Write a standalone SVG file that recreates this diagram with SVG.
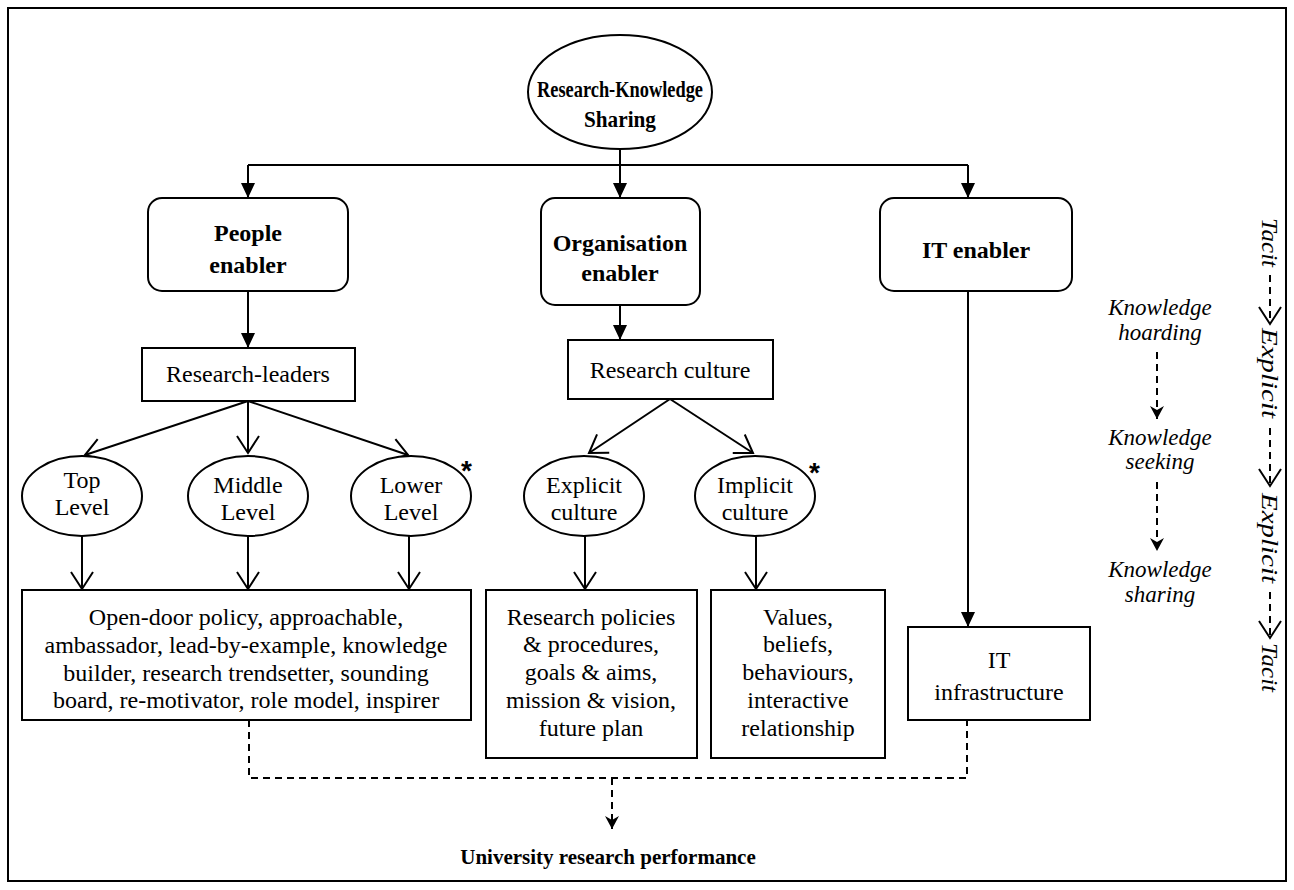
<svg xmlns="http://www.w3.org/2000/svg" width="1294" height="890" viewBox="0 0 1294 890">
  <style>
    .frame { fill: #fff; stroke: #000; stroke-width: 2; }
    .node { fill: #fff; stroke: #000; stroke-width: 2; }
    .bold { font-family: "Liberation Serif", "Times New Roman", serif; font-weight: bold; font-size: 24px; text-anchor: middle; fill: #000; }
    .txt { font-family: "Liberation Serif", "Times New Roman", serif; font-size: 24px; text-anchor: middle; fill: #000; }
    .ital { font-family: "Liberation Serif", "Times New Roman", serif; font-style: italic; font-size: 23px; text-anchor: middle; fill: #000; }
    .star { font-family: "Liberation Sans", Arial, sans-serif; font-weight: bold; font-size: 28px; fill: #000; }
    .solid { fill: none; stroke: #000; stroke-width: 2; }
    .dash { fill: none; stroke: #000; stroke-width: 2; stroke-dasharray: 7 5; }
  </style>
  <defs>
    <marker id="fill" markerUnits="userSpaceOnUse" markerWidth="16" markerHeight="16" viewBox="0 0 16 16" refX="15" refY="8" orient="auto">
      <path d="M0,1 L15,8 L0,15 z" fill="#000"/>
    </marker>
    <marker id="open" markerUnits="userSpaceOnUse" markerWidth="20" markerHeight="26" viewBox="0 0 20 26" refX="18" refY="13" orient="auto">
      <path d="M1,2 L18,13 L1,24" fill="none" stroke="#000" stroke-width="2"/>
    </marker>
    <marker id="chev" markerUnits="userSpaceOnUse" markerWidth="14" markerHeight="16" viewBox="0 0 14 16" refX="13" refY="8" orient="auto">
      <path d="M0,1 L13,8 L0,15 L4,8 z" fill="#000"/>
    </marker>
  </defs>

  <rect class="frame" x="8" y="8" width="1278" height="873"/>

  <!-- connectors -->
  <g id="connectors">
    <path class="solid" d="M620,149 V165 M248,165 H968"/>
    <path class="solid" d="M248,165 V198" marker-end="url(#fill)"/>
    <path class="solid" d="M620,165 V198" marker-end="url(#fill)"/>
    <path class="solid" d="M968,165 V198" marker-end="url(#fill)"/>
    <path class="solid" d="M248,291 V348" marker-end="url(#fill)"/>
    <path class="solid" d="M620,305 V340" marker-end="url(#fill)"/>
    <path class="solid" d="M968,291 V627" marker-end="url(#fill)"/>
    <path class="solid" d="M248,401 L85,455" marker-end="url(#open)"/>
    <path class="solid" d="M248,401 V453" marker-end="url(#open)"/>
    <path class="solid" d="M248,401 L408,455" marker-end="url(#open)"/>
    <path class="solid" d="M670,399 L589,453" marker-end="url(#open)"/>
    <path class="solid" d="M670,399 L753,453" marker-end="url(#open)"/>
    <path class="solid" d="M82,536 V589" marker-end="url(#open)"/>
    <path class="solid" d="M248,536 V589" marker-end="url(#open)"/>
    <path class="solid" d="M409,536 V589" marker-end="url(#open)"/>
    <path class="solid" d="M585,536 V589" marker-end="url(#open)"/>
    <path class="solid" d="M756,536 V589" marker-end="url(#open)"/>
    <path class="dash" d="M249,720 V778 H967 V720"/>
    <path class="dash" d="M612,778 V829" marker-end="url(#chev)"/>
    <path class="dash" d="M1157,352 V419" marker-end="url(#chev)"/>
    <path class="dash" d="M1157,482 V551" marker-end="url(#chev)"/>
    <path class="dash" d="M1270,275 V324" marker-end="url(#open)"/>
    <path class="dash" d="M1270,428 V486" marker-end="url(#open)"/>
    <path class="dash" d="M1270,592 V638" marker-end="url(#open)"/>
  </g>

  <g id="root">
    <ellipse class="node" cx="620" cy="92" rx="92" ry="57"/>
    <text class="bold" x="620" y="97" style="font-size:23px" textLength="166" lengthAdjust="spacingAndGlyphs">Research-Knowledge</text>
    <text class="bold" x="620" y="127" style="font-size:23px" textLength="72" lengthAdjust="spacingAndGlyphs">Sharing</text>
  </g>

  <g id="people-enabler">
    <rect class="node" x="148" y="198" width="200" height="93" rx="14"/>
    <text class="bold" x="248" y="241">People</text>
    <text class="bold" x="248" y="273">enabler</text>
  </g>
  <g id="organisation-enabler">
    <rect class="node" x="541" y="198" width="159" height="107" rx="14"/>
    <text class="bold" x="620" y="251">Organisation</text>
    <text class="bold" x="620" y="281">enabler</text>
  </g>
  <g id="it-enabler">
    <rect class="node" x="880" y="198" width="192" height="93" rx="14"/>
    <text class="bold" x="976" y="258">IT enabler</text>
  </g>

  <g id="research-leaders">
    <rect class="node" x="142" y="348" width="213" height="53"/>
    <text class="txt" x="248" y="382">Research-leaders</text>
  </g>
  <g id="research-culture">
    <rect class="node" x="568" y="340" width="205" height="59"/>
    <text class="txt" x="670" y="378">Research culture</text>
  </g>

  <g id="top-level">
    <ellipse class="node" cx="82" cy="496" rx="60" ry="40"/>
    <text class="txt" x="82" y="488">Top</text>
    <text class="txt" x="82" y="515">Level</text>
  </g>
  <g id="middle-level">
    <ellipse class="node" cx="248" cy="496" rx="60" ry="40"/>
    <text class="txt" x="248" y="493">Middle</text>
    <text class="txt" x="248" y="520">Level</text>
  </g>
  <g id="lower-level">
    <ellipse class="node" cx="411" cy="496" rx="60" ry="40"/>
    <text class="txt" x="411" y="493">Lower</text>
    <text class="txt" x="411" y="520">Level</text>
    <text class="star" x="461" y="480">*</text>
  </g>
  <g id="explicit-culture">
    <ellipse class="node" cx="584" cy="496" rx="60" ry="40"/>
    <text class="txt" x="584" y="493">Explicit</text>
    <text class="txt" x="584" y="520">culture</text>
  </g>
  <g id="implicit-culture">
    <ellipse class="node" cx="755" cy="496" rx="60" ry="40"/>
    <text class="txt" x="755" y="493">Implicit</text>
    <text class="txt" x="755" y="520">culture</text>
    <text class="star" x="809" y="482">*</text>
  </g>

  <g id="leader-roles">
    <rect class="node" x="22" y="590" width="449" height="130"/>
    <text class="txt" x="246" y="625">Open-door policy, approachable,</text>
    <text class="txt" x="246" y="653">ambassador, lead-by-example, knowledge</text>
    <text class="txt" x="246" y="681">builder, research trendsetter, sounding</text>
    <text class="txt" x="246" y="708">board, re-motivator, role model, inspirer</text>
  </g>
  <g id="explicit-items">
    <rect class="node" x="486" y="590" width="211" height="168"/>
    <text class="txt" x="591" y="625">Research policies</text>
    <text class="txt" x="591" y="652">&amp; procedures,</text>
    <text class="txt" x="591" y="680">goals &amp; aims,</text>
    <text class="txt" x="591" y="708">mission &amp; vision,</text>
    <text class="txt" x="591" y="736">future plan</text>
  </g>
  <g id="implicit-items">
    <rect class="node" x="711" y="590" width="174" height="168"/>
    <text class="txt" x="798" y="625">Values,</text>
    <text class="txt" x="798" y="652">beliefs,</text>
    <text class="txt" x="798" y="680">behaviours,</text>
    <text class="txt" x="798" y="708">interactive</text>
    <text class="txt" x="798" y="736">relationship</text>
  </g>
  <g id="it-infrastructure">
    <rect class="node" x="908" y="627" width="182" height="93"/>
    <text class="txt" x="999" y="668">IT</text>
    <text class="txt" x="999" y="700">infrastructure</text>
  </g>

  <g id="performance">
    <text class="bold" x="608" y="864" style="font-size:21px">University research performance</text>
  </g>

  <g id="knowledge-stages">
    <text class="ital" x="1160" y="315">Knowledge</text>
    <text class="ital" x="1160" y="340">hoarding</text>
    <text class="ital" x="1160" y="445">Knowledge</text>
    <text class="ital" x="1160" y="469">seeking</text>
    <text class="ital" x="1160" y="577">Knowledge</text>
    <text class="ital" x="1160" y="602">sharing</text>
  </g>

  <g id="conversion-axis" class="ital" style="text-anchor:start;font-size:24px">
    <text transform="translate(1262,218) rotate(90)" textLength="49" lengthAdjust="spacingAndGlyphs">Tacit</text>
    <text transform="translate(1262,328) rotate(90)" textLength="90" lengthAdjust="spacingAndGlyphs">Explicit</text>
    <text transform="translate(1262,493) rotate(90)" textLength="90" lengthAdjust="spacingAndGlyphs">Explicit</text>
    <text transform="translate(1262,643) rotate(90)" textLength="49" lengthAdjust="spacingAndGlyphs">Tacit</text>
  </g>
</svg>
